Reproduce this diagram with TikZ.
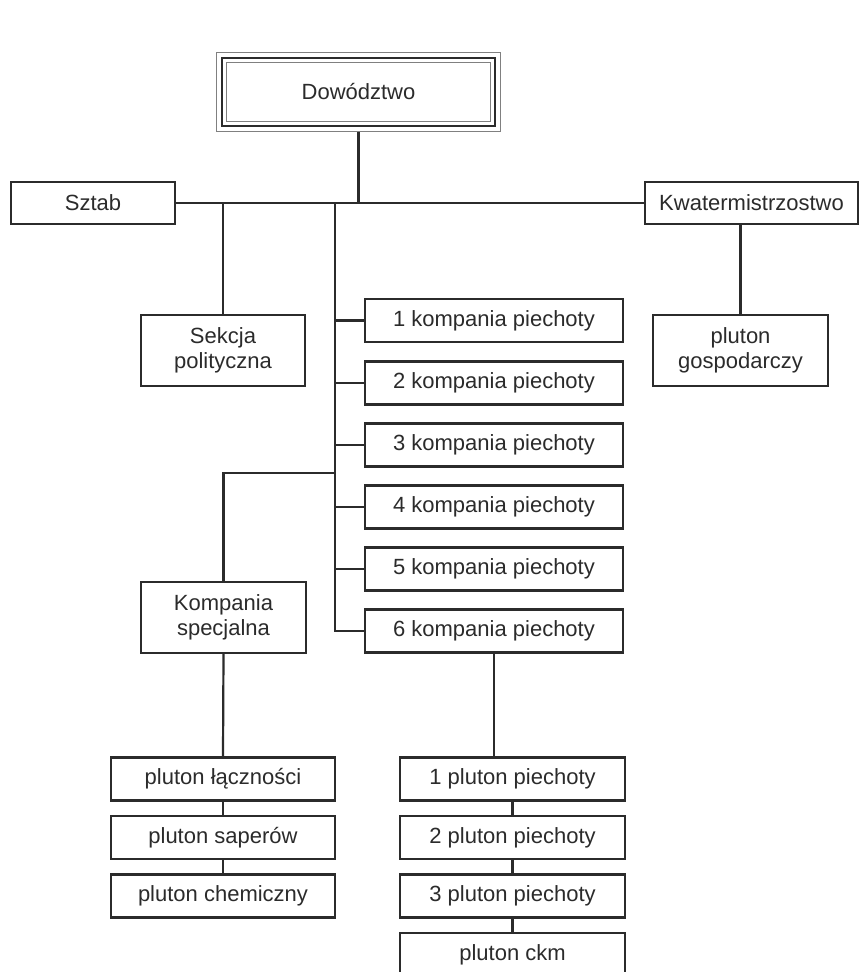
\documentclass[tikz,border=0pt]{standalone}
\usepackage{fontspec}
\setmainfont{Liberation Sans}
\definecolor{ink}{HTML}{2B2B2B}
\tikzset{
	box/.style={draw=ink, line width=2.2pt, fill=white, inner sep=0pt, text=ink, align=center, font=\fontsize{22}{25}\selectfont},
	komp/.style={box, minimum width=258pt, minimum height=43pt},
	pluton/.style={box, minimum width=224pt, minimum height=43pt},
	link/.style={draw=ink, line width=2.2pt},
}
\begin{document}
\begin{tikzpicture}[x=1pt,y=-1pt]
	\fill[white] (0,0) rectangle (859,972);
	\useasboundingbox (0,0) rectangle (859,972);
	\pgfmathsetmacro\KX{494}
	\pgfmathsetmacro\LX{223}
	\pgfmathsetmacro\RX{512.5}
	\pgfmathsetmacro\BUS{335}

	\node[box, line width=2.8pt, minimum width=273pt, minimum height=68pt] (dow) at (358.5,92) {Dowództwo};
	\draw[ink!60, line width=1pt] ([shift={(6pt,-6pt)}]dow.north west) rectangle ([shift={(-6pt,6pt)}]dow.south east);
	\draw[ink!60, line width=1pt] ([shift={(-4.5pt,4.5pt)}]dow.north west) rectangle ([shift={(4.5pt,-4.5pt)}]dow.south east);
	\coordinate (dowFoot) at ([yshift=-4.5pt]dow.south);

	\node[box, minimum width=164pt, minimum height=42pt] (sztab) at (93,203) {Sztab};
	\node[box, minimum width=213pt, minimum height=42pt] (kwat) at (751.5,203) {Kwatermistrzostwo};
	\node[box, minimum width=164pt, minimum height=71pt] (sekcja) at (223,350.5) {Sekcja\\polityczna};
	\node[box, minimum width=175pt, minimum height=71pt] (gosp) at (740.5,350.5) {pluton\\gospodarczy};

	\node[komp] (k1) at (\KX,320.5) {1 kompania piechoty};
	\node[komp] (k2) at (\KX,383) {2 kompania piechoty};
	\node[komp] (k3) at (\KX,445) {3 kompania piechoty};
	\node[komp] (k4) at (\KX,507) {4 kompania piechoty};
	\node[komp] (k5) at (\KX,569) {5 kompania piechoty};
	\node[komp] (k6) at (\KX,631) {6 kompania piechoty};

	\node[box, minimum width=165pt, minimum height=71pt] (spec) at (223.5,617.5) {Kompania\\specjalna};

	\node[pluton] (lacz) at (\LX,779) {pluton łączności};
	\node[pluton] (saper) at (\LX,837.5) {pluton saperów};
	\node[pluton] (chem) at (\LX,896) {pluton chemiczny};

	\node[pluton, minimum width=225pt] (p1) at (\RX,779) {1 pluton piechoty};
	\node[pluton, minimum width=225pt] (p2) at (\RX,837.5) {2 pluton piechoty};
	\node[pluton, minimum width=225pt] (p3) at (\RX,896) {3 pluton piechoty};
	\node[pluton, minimum width=225pt] (ckm) at (\RX,954.5) {pluton ckm};

	% connectors
	\coordinate (bus) at (\BUS,203);
	\coordinate (specJoin) at (\BUS,473);
	\draw[link] (dowFoot) -- (dowFoot |- sztab.east);
	\draw[link] (sztab.east) -- (kwat.west);
	\draw[link] (sekcja.north) -- (sekcja.north |- sztab.east);
	\draw[link] (gosp.north) -- (gosp.north |- kwat.south);
	\draw[link] (bus) -- (bus |- k6.west) -- (k6.west);
	\draw[link] (k1.west) -- (k1.west -| bus);
	\draw[link] (k2.west) -- (k2.west -| bus);
	\draw[link] (k3.west) -- (k3.west -| bus);
	\draw[link] (k4.west) -- (k4.west -| bus);
	\draw[link] (k5.west) -- (k5.west -| bus);
	\draw[link] (specJoin) -- (specJoin -| spec.north) -- (spec.north);
	\draw[link] (spec.south) -- (lacz.north);
	\draw[link] (lacz) -- (saper);
	\draw[link] (saper) -- (chem);
	\draw[link] (k6.south) -- (k6.south |- p1.north);
	\draw[link] (p1) -- (p2);
	\draw[link] (p2) -- (p3);
	\draw[link] (p3) -- (ckm);
\end{tikzpicture}
\end{document}
